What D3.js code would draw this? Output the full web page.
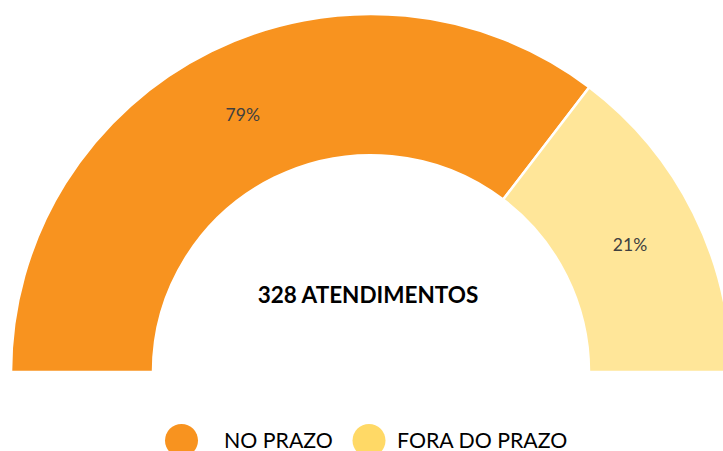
<!DOCTYPE html>
<html><head><meta charset="utf-8">
<script src="https://cdn.jsdelivr.net/npm/d3@7"></script>
<style>html,body{margin:0;padding:0;background:#fff;overflow:hidden}</style>
</head><body>
<svg id="chart" width="723" height="451"></svg>
<script>
const categories = ["NO PRAZO", "FORA DO PRAZO"];
const counts = [232, 96];
const pctLabels = ["79%", "21%"];
const sliceColors = ["#F8931F", "#FFE699"];
const legendColors = ["#F8931F", "#FFD966"];
const centerSuffix = "ATENDIMENTOS";

const svg = d3.select("#chart");
const cx = 371, cy = 372, rOuter = 360, rInner = 218;
const font = "Lato, 'Open Sans', sans-serif";

const data = categories.map((c, i) => ({ cat: c, value: counts[i], label: pctLabels[i], color: sliceColors[i] }));
const pie = d3.pie().value(d => d.value).sort(null).startAngle(-Math.PI / 2).endAngle(Math.PI / 2);
const arc = d3.arc().innerRadius(rInner).outerRadius(rOuter);

const g = svg.append("g").attr("transform", `translate(${cx},${cy}) scale(1,0.9945)`);
const arcs = pie(data);
g.selectAll("path").data(arcs).join("path")
  .attr("d", arc).attr("fill", d => d.data.color)
  .attr("stroke", "#fff").attr("stroke-width", 2.5);

svg.selectAll("text.lbl").data(arcs).join("text").attr("class", "lbl")
  .attr("transform", d => { const [x, y] = arc.centroid(d); return `translate(${cx + x},${cy + y * 0.9945})`; })
  .attr("text-anchor", "middle").attr("dy", "0.35em")
  .attr("font-family", font).attr("font-size", 17.5).attr("fill", "#404040")
  .text(d => d.data.label);

svg.append("text").attr("x", 368).attr("y", 303).attr("text-anchor", "middle")
  .attr("font-family", font).attr("font-weight", "bold").attr("font-size", 22.5).attr("fill", "#000")
  .text(`${d3.sum(counts)} ${centerSuffix}`);

const legendX = [181.5, 369];
const legendTextX = [224, 397];
const lg = svg.append("g");
categories.forEach((c, i) => {
  lg.append("circle").attr("cx", legendX[i]).attr("cy", 440.5).attr("r", 16.5).attr("fill", legendColors[i]);
  lg.append("text").attr("x", legendTextX[i]).attr("y", 448)
    .attr("font-family", font).attr("font-size", 21.3).attr("fill", "#000").text(c);
});
</script>
</body></html>
